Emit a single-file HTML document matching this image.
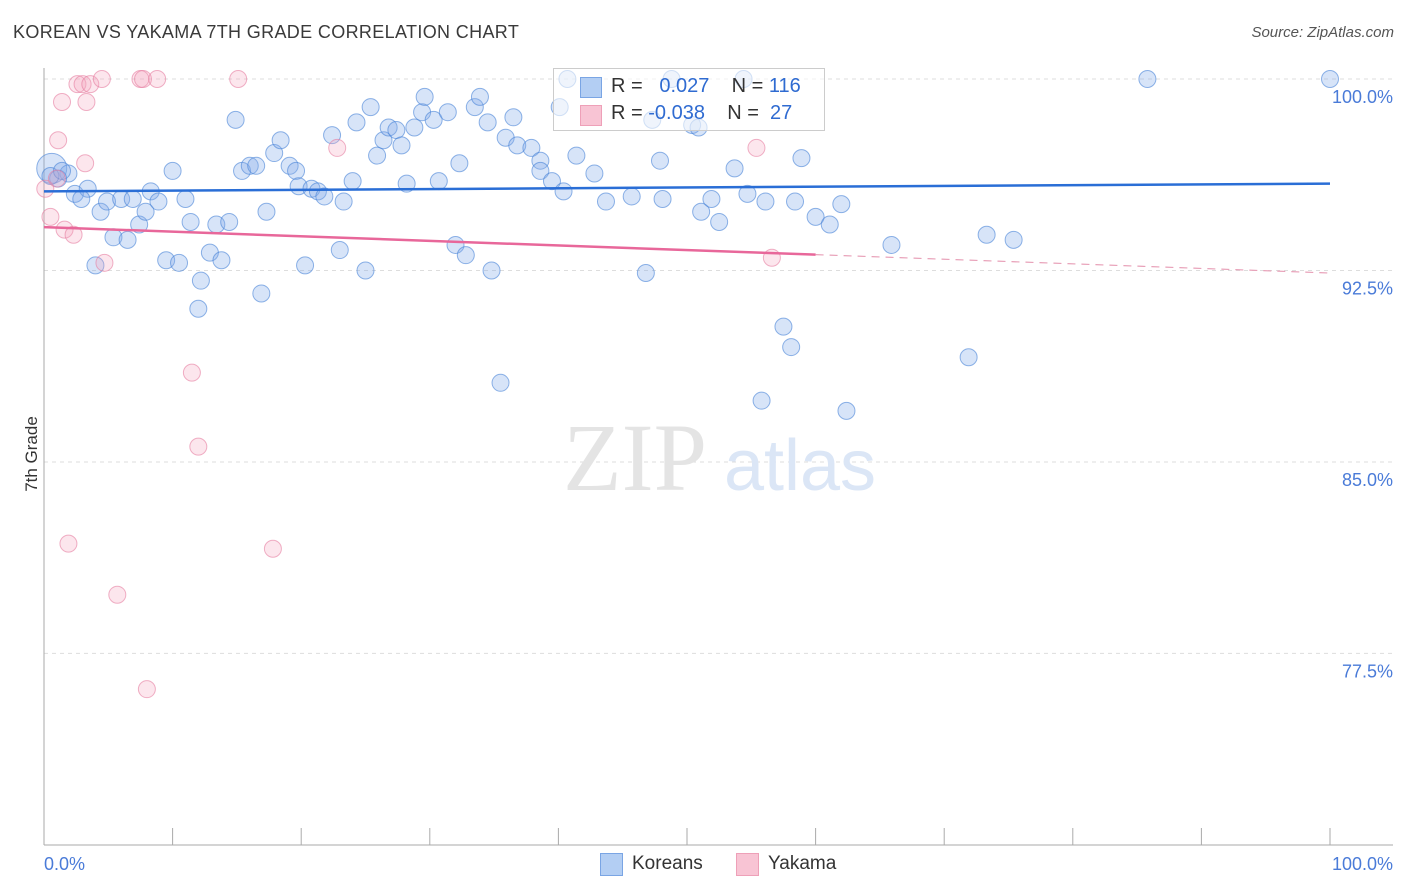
<!DOCTYPE html>
<html><head><meta charset="utf-8">
<style>
body{margin:0;background:#fff;font-family:"Liberation Sans",sans-serif;}
#wrap{position:relative;width:1406px;height:892px;overflow:hidden;}
.t{position:absolute;white-space:nowrap;}
</style></head>
<body>
<div id="wrap">
<div class="t" style="left:13px;top:22px;font-size:18px;color:#3a3a3a;letter-spacing:0.35px;">KOREAN VS YAKAMA 7TH GRADE CORRELATION CHART</div>
<div class="t" style="right:12px;top:24px;font-size:15px;color:#555;font-style:italic;">Source: ZipAtlas.com</div>
<div class="t" style="left:-6px;top:444px;font-size:17px;color:#333;transform:rotate(-90deg);">7th Grade</div>
<svg id="plot" width="1406" height="892" style="position:absolute;left:0;top:0"></svg>
</div>
<script>
const yTicks=[100,92.5,85,77.5];
const yTickLabels=["100.0%","92.5%","85.0%","77.5%"];
const xTickLabels=["0.0%","100.0%"];
const koreanX=[0.6,1.9,1.1,2.4,3.4,2.9,4.4,4.0,4.9,5.4,6.0,6.5,6.9,7.4,7.9,8.3,8.9,9.5,10.0,10.5,11.0,11.4,12.0,12.2,12.9,13.4,13.8,14.4,14.9,15.4,16.0,16.5,16.9,17.3,17.9,18.4,19.1,19.6,19.8,20.3,20.8,21.3,21.8,22.4,23.0,23.3,24.0,24.3,25.0,25.4,25.9,26.4,26.8,27.4,27.8,28.2,28.8,29.4,29.6,30.3,30.7,31.4,32.0,32.3,32.8,33.5,33.9,34.5,34.8,35.5,35.9,36.5,36.8,37.9,38.6,38.6,39.5,40.1,40.4,40.7,41.4,42.8,43.7,45.7,46.8,47.3,47.9,48.1,48.8,50.4,50.9,51.1,51.9,52.5,53.7,54.4,54.7,55.8,56.1,57.5,58.1,58.4,58.9,60.0,61.1,62.0,62.4,65.9,71.9,73.3,75.4,85.8,100.0,0.5,1.4];
const koreanY=[96.5,96.3,96.1,95.5,95.7,95.3,94.8,92.7,95.2,93.8,95.3,93.7,95.3,94.3,94.8,95.6,95.2,92.9,96.4,92.8,95.3,94.4,91.0,92.1,93.2,94.3,92.9,94.4,98.4,96.4,96.6,96.6,91.6,94.8,97.1,97.6,96.6,96.4,95.8,92.7,95.7,95.6,95.4,97.8,93.3,95.2,96.0,98.3,92.5,98.9,97.0,97.6,98.1,98.0,97.4,95.9,98.1,98.7,99.3,98.4,96.0,98.7,93.5,96.7,93.1,98.9,99.3,98.3,92.5,88.1,97.7,98.5,97.4,97.3,96.8,96.4,96.0,98.9,95.6,100.0,97.0,96.3,95.2,95.4,92.4,98.4,96.8,95.3,100.0,98.2,98.1,94.8,95.3,94.4,96.5,100.0,95.5,87.4,95.2,90.3,89.5,95.2,96.9,94.6,94.3,95.1,87.0,93.5,89.1,93.9,93.7,100.0,100.0,96.2,96.4];
const yakamaX=[0.1,0.5,1.0,1.1,1.4,1.6,1.9,2.3,2.6,3.0,3.2,3.3,3.6,4.5,4.7,5.7,7.5,7.7,8.0,8.8,11.5,12.0,15.1,17.8,22.8,55.4,56.6];
const yakamaY=[95.7,94.6,96.1,97.6,99.1,94.1,81.8,93.9,99.8,99.8,96.7,99.1,99.8,100,92.8,79.8,100,100,76.1,100,88.5,85.6,100,81.6,97.3,97.3,93.0];
const koreanTrend=[95.6,95.9];
const yakamaTrend=[94.2,92.4];
const yakamaSolidEnd=60;

const svg=document.getElementById('plot');
const NS='http://www.w3.org/2000/svg';
const X0=44,X1=1330,YTOP=79,PX_PER=25.53;
const xs=v=>X0+(X1-X0)*v/100;
const ys=v=>YTOP+(100-v)*PX_PER;
function mk(tag,attrs){const e=document.createElementNS(NS,tag);for(const k in attrs)e.setAttribute(k,attrs[k]);svg.appendChild(e);return e;}

yTicks.forEach((t,i)=>{
  const g=mk('line',{x1:X0,x2:1393,y1:ys(t),y2:ys(t),stroke:'#ddd','stroke-dasharray':'4,4'});
  
  
  const l=mk('text',{x:1393,y:ys(t)+24,'text-anchor':'end','font-size':18,fill:'#4a7bd8','font-family':'Liberation Sans'});
  l.textContent=yTickLabels[i];
  
  
});
const ax=mk('line',{x1:X0,x2:X0,y1:68,y2:845,stroke:'#aaa'});


const bx=mk('line',{x1:X0,x2:1393,y1:845,y2:845,stroke:'#aaa'});


for(let i=0;i<=10;i++){
  const tk=mk('line',{x1:xs(i*10),x2:xs(i*10),y1:828,y2:845,stroke:'#aaa'});
  
  
}
[[0,'start'],[100,'end']].forEach((p,i)=>{
  const l=mk('text',{x:i?1393:44,y:870,'text-anchor':p[1],'font-size':18,fill:'#4a7bd8','font-family':'Liberation Sans'});
  l.textContent=xTickLabels[i];
  
  
});
const w1=mk('text',{x:635,y:490,'text-anchor':'middle','font-size':96,fill:'#e4e4e4','font-family':'Liberation Serif'});
w1.textContent='ZIP';


const w2=mk('text',{x:800,y:490,'text-anchor':'middle','font-size':72,fill:'#dbe6f6','font-family':'Liberation Sans'});
w2.textContent='atlas';



koreanX.forEach((x,i)=>{
  const big=i===0;
  const c=mk('circle',{cx:xs(x),cy:ys(koreanY[i]),r:big?15:8.5,fill:'rgba(130,172,232,0.32)',stroke:'rgba(70,130,215,0.6)','stroke-width':1});
  
  
});
yakamaX.forEach((x,i)=>{
  const c=mk('circle',{cx:xs(x),cy:ys(yakamaY[i]),r:8.5,fill:'rgba(245,165,190,0.28)',stroke:'rgba(230,125,160,0.6)','stroke-width':1});
  
  
});
const kt=mk('line',{x1:xs(0),x2:xs(100),y1:ys(koreanTrend[0]),y2:ys(koreanTrend[1]),stroke:'#2a6ed6','stroke-width':2.5});


const yAt=x=>yakamaTrend[0]+(yakamaTrend[1]-yakamaTrend[0])*x/100;
const yt=mk('line',{x1:xs(0),x2:xs(yakamaSolidEnd),y1:ys(yAt(0)),y2:ys(yAt(yakamaSolidEnd)),stroke:'#e8679a','stroke-width':2.5});


const yd=mk('line',{x1:xs(yakamaSolidEnd),x2:xs(100),y1:ys(yAt(yakamaSolidEnd)),y2:ys(yAt(100)),stroke:'#e8a0b8','stroke-width':1.2,'stroke-dasharray':'8,6'});


</script>
<div style="position:absolute;left:553px;top:68px;width:270px;height:61px;border:1px solid #ccc;background:rgba(255,255,255,0.6);font-size:20px;">
  <div style="position:absolute;left:26px;top:8px;width:20px;height:19px;background:#b3cef3;border:1px solid #7aa5e4;"></div>
  <div class="t" style="left:57px;top:6px;color:#333;">R = &nbsp;<span style="color:#2f6bd1">&nbsp;0.027</span>&nbsp;&nbsp;&nbsp; N = <span style="color:#2f6bd1">116</span></div>
  <div style="position:absolute;left:26px;top:36px;width:20px;height:19px;background:#f8c4d4;border:1px solid #eea0b8;"></div>
  <div class="t" style="left:57px;top:33px;color:#333;">R = <span style="color:#2f6bd1">-0.038</span>&nbsp;&nbsp;&nbsp; N = &nbsp;<span style="color:#2f6bd1">27</span></div>
</div>
<div style="position:absolute;left:600px;top:853px;font-size:19px;color:#333;">
  <span style="position:absolute;left:0;top:0;width:21px;height:21px;background:#b3cef3;border:1px solid #7aa5e4;"></span>
  <span class="t" style="left:32px;top:0;">Koreans</span>
</div>
<div style="position:absolute;left:736px;top:853px;font-size:19px;color:#333;">
  <span style="position:absolute;left:0;top:0;width:21px;height:21px;background:#f8c4d4;border:1px solid #eea0b8;"></span>
  <span class="t" style="left:32px;top:0;">Yakama</span>
</div>
</body></html>
